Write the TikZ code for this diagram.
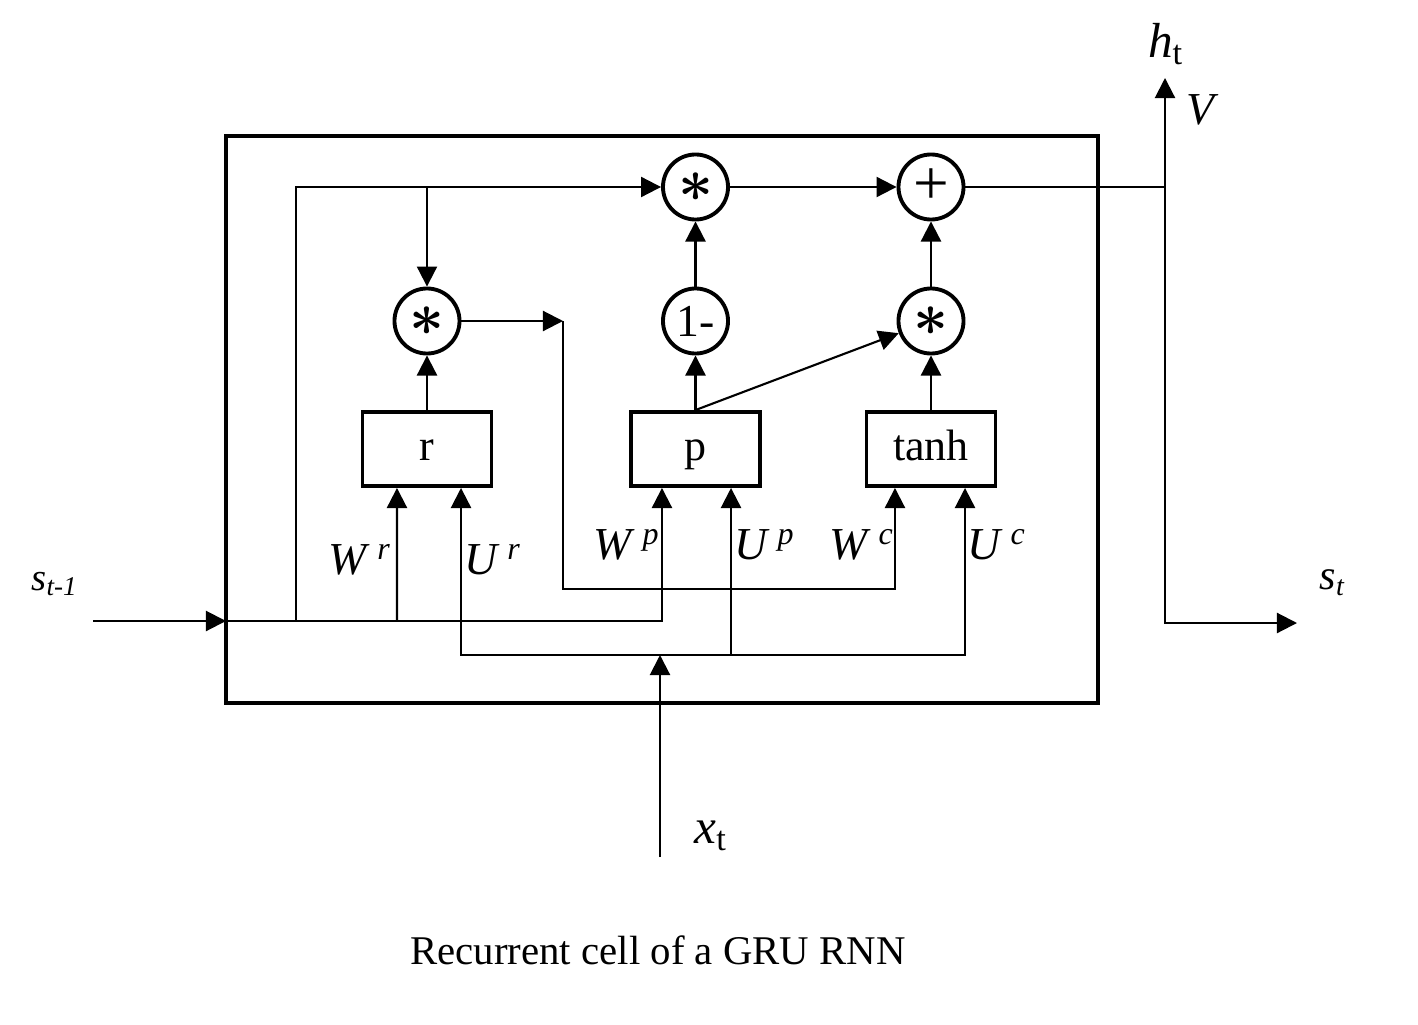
\documentclass[tikz,border=0pt]{standalone}
\usepackage{bm}
\usepackage{fontspec}
\setmainfont{Liberation Serif}
\usetikzlibrary{arrows.meta,positioning}
\tikzset{
  op/.style={circle,draw,line width=1.1pt,minimum size=0.65cm,inner sep=0pt,font=\fontsize{16}{16}\selectfont},
  gate/.style={draw,line width=1.1pt,minimum width=1.29cm,minimum height=0.74cm,text height=0.30cm,text depth=0.08cm,font=\fontsize{12.5}{12.5}\selectfont},
  wire/.style={line width=0.6pt},
  arr/.style={wire,-{Triangle[length=5.7pt,width=5.7pt]}},
  lbl/.style={font=\fontsize{13}{13}\selectfont,inner sep=0pt},
}

\begin{document}
\begin{tikzpicture}[x=0.01cm,y=-0.01cm]
    \useasboundingbox (0,0) rectangle (1418,1024);
    % cell frame
    \draw[line width=1.4pt] (226,136) rectangle (1098,703);
    % operators
    \node[op] (mulS) at (695.5,187) {\raisebox{-0.05cm}{$\bm{\ast}$}};
    \node[op] (plus) at (931,187) {\fontsize{18}{18}\selectfont\raisebox{-0.12cm}{+}};
    \node[op] (mulR) at (427,321) {\raisebox{-0.05cm}{$\bm{\ast}$}};
    \node[op,font=\fontsize{13}{13}\selectfont] (oneM) at (695.5,321) {1-};
    \node[op] (mulC) at (931,321) {\raisebox{-0.05cm}{$\bm{\ast}$}};
    % gates
    \node[gate] (boxR) at (427,449) {r};
    \node[gate] (boxP) at (695.5,449) {p};
    \node[gate] (boxT) at (931,449) {tanh};
    % junctions
    \coordinate (sIn) at (93,621);
    \coordinate (sJoin) at (226,621);
    \coordinate (sUp) at (296,621);
    \coordinate (sWr) at (397,621);
    \coordinate (xIn) at (660,857);
    \coordinate (xJoin) at (660,655);
    \coordinate (rsOut) at (563,321);
    \coordinate (hJoin) at (1165,187);
    \coordinate (hOut) at (1165,78);
    \coordinate (sOut) at (1297,623);
    % previous state
    \draw[arr] (sIn) -- (sJoin);
    \draw[arr] (sJoin) -| ([xshift=-0.335cm]boxP.south);
    \draw[arr] (sWr) -- ([xshift=-0.30cm]boxR.south);
    \draw[arr] (sUp) |- (mulS.west);
    \draw[arr] (mulR.north |- mulS.west) -- (mulR.north);
    % input
    \draw[arr] (xIn) -- (xJoin);
    \draw[arr] (xJoin) -| ([xshift=0.34cm]boxR.south);
    \draw[arr] (xJoin) -| ([xshift=0.355cm]boxP.south);
    \draw[arr] (xJoin) -| ([xshift=0.34cm]boxT.south);
    % reset path
    \draw[arr] (boxR.north) -- (mulR.south);
    \draw[arr] (mulR.east) -- (rsOut);
    \draw[arr] (rsOut) -- (563,589) -| ([xshift=-0.36cm]boxT.south);
    % update path
    \draw[arr] (boxP.north) -- (oneM.south);
    \draw[arr] (boxP.north) -- (mulC);
    \draw[arr] (oneM.north) -- (mulS.south);
    \draw[arr] (boxT.north) -- (mulC.south);
    \draw[arr] (mulC.north) -- (plus.south);
    \draw[arr] (mulS.east) -- (plus.west);
    % output
    \draw[wire] (plus.east) -- (hJoin);
    \draw[arr] (hJoin) -- (hOut);
    \draw[arr] (hJoin) |- (sOut);
    % labels
    \node[lbl,font=\fontsize{11}{11}\selectfont] (lsIn) at (55,584) {\textit{s}\textsubscript{\textit{t-1}}};
    \node[lbl,font=\fontsize{12}{12}\selectfont] (lsOut) at (1333,583) {\textit{s}\textsubscript{\textit{t}}};
    \node[lbl,font=\fontsize{14}{14}\selectfont] (lh) at (1166,44) {\textit{h}\textsubscript{t}};
    \node[lbl] (lV) at (1203,110) {\textit{V}};
    \node[lbl,font=\fontsize{14}{14}\selectfont] (lx) at (711,836) {\textit{x}\textsubscript{t}};
    \node[lbl] (lWr) at (360,560) {\textit{W}\,\textsuperscript{\textit{r}}};
    \node[lbl] (lUr) at (493,560) {\textit{U}\,\textsuperscript{\textit{r}}};
    \node[lbl] (lWp) at (627,545) {\textit{W}\,\textsuperscript{\textit{p}}};
    \node[lbl] (lUp) at (765,545) {\textit{U}\,\textsuperscript{\textit{p}}};
    \node[lbl] (lWc) at (862,545) {\textit{W}\,\textsuperscript{\textit{c}}};
    \node[lbl] (lUc) at (997,545) {\textit{U}\,\textsuperscript{\textit{c}}};
    \node[font=\fontsize{11.6}{14}\selectfont] (caption) at (658,950) {Recurrent cell of a GRU RNN};
  \end{tikzpicture}
\end{document}
